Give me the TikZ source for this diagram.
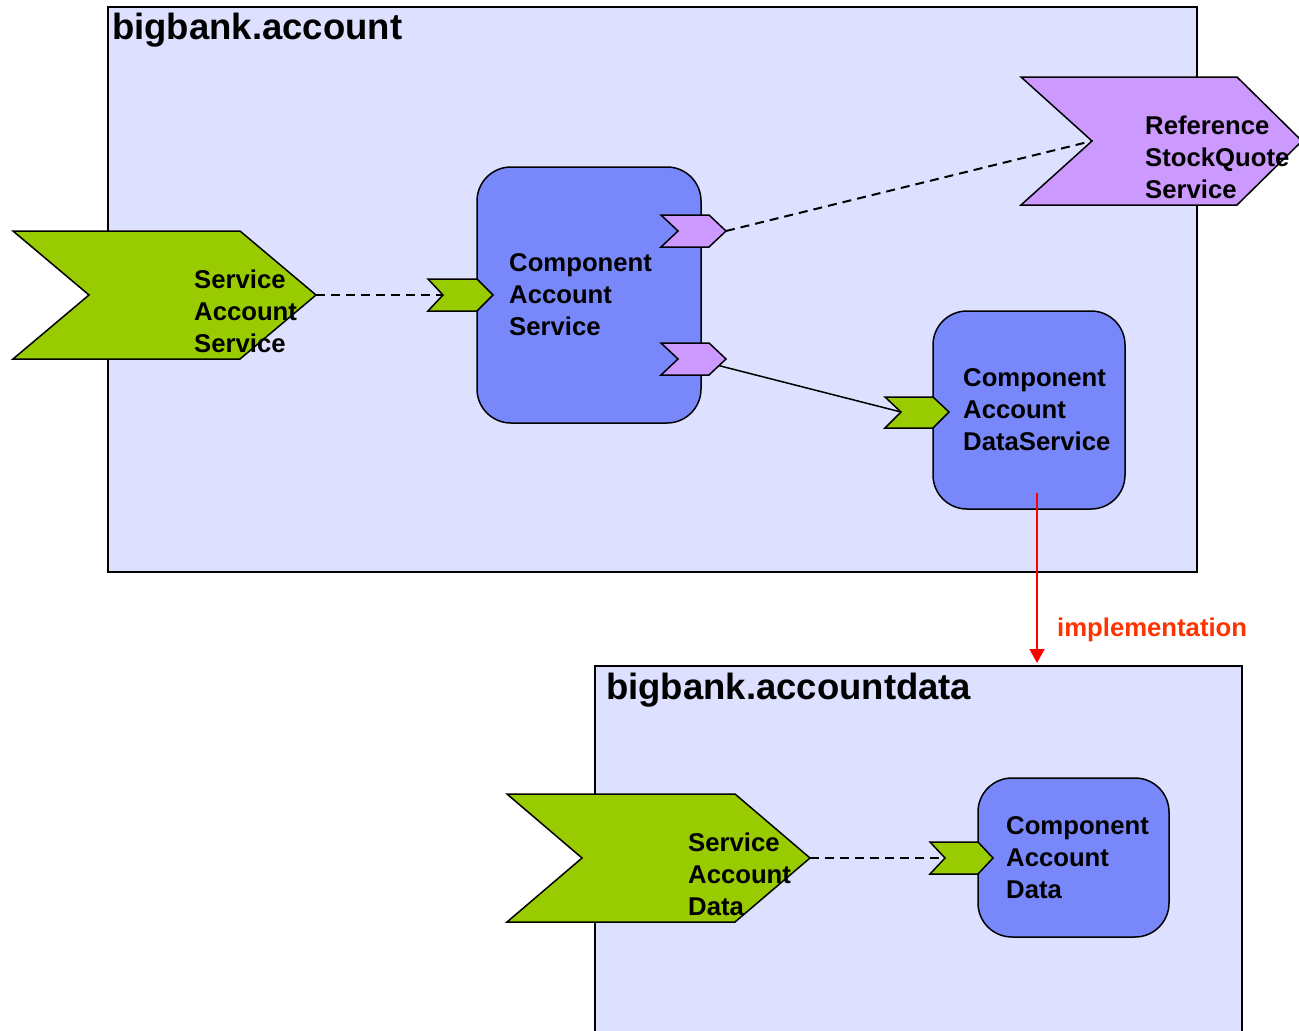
\documentclass[tikz,border=0pt]{standalone}
\usepackage{fontspec}
\setmainfont{Liberation Sans}
\usetikzlibrary{arrows.meta}
\definecolor{pkgfill}{RGB}{221,224,254}
\definecolor{compfill}{RGB}{120,136,251}
\definecolor{svcgreen}{RGB}{153,204,0}
\definecolor{refpurple}{RGB}{204,153,255}
\definecolor{impred}{RGB}{255,51,0}
\tikzset{
  pkg/.style={draw=black, fill=pkgfill, line width=2pt, inner sep=0pt, outer sep=0pt, anchor=north west},
  comp/.style={draw=black, fill=compfill, line width=1.5pt, rounded corners=34pt, inner sep=0pt, outer sep=0pt, anchor=north west},
  chev/.style={draw=black, line width=1.5pt, line join=miter},
  svc/.style={chev, fill=svcgreen},
  refc/.style={chev, fill=refpurple},
  lbl/.style={font=\fontsize{25.7}{32}\selectfont\bfseries, align=left, inner sep=0pt, anchor=west},
  ttl/.style={font=\fontsize{36.5}{40}\selectfont\bfseries, inner sep=0pt, anchor=base west},
  wire/.style={line width=1.5pt},
  wiredash/.style={line width=2.5pt, dash pattern=on 9pt off 6pt},
  wiredashthin/.style={line width=2pt, dash pattern=on 9pt off 6pt},
  implarrow/.style={draw=red, line width=1.5pt, -{Triangle[width=15pt,length=14pt]}},
}
\begin{document}
\begin{tikzpicture}[x=1pt,y=-1pt]
\useasboundingbox[fill=white] (0,0) rectangle (1299,1031);

% packages
\node[pkg, minimum width=1089pt, minimum height=565pt] (acct) at (108,7) {};
\node[ttl] (acctT) at (112,39.5) {bigbank.account};
\node[pkg, minimum width=647pt, minimum height=400pt] (adata) at (595,666) {};
\node[ttl] (adataT) at (606,699) {bigbank.accountdata};

% connector end points
\coordinate (sasTip) at (316,295);
\coordinate (casIn) at (443,295);
\coordinate (refOutA) at (726,231);
\coordinate (refNotch) at (1092,141);
\coordinate (refOutB) at (693,359);
\coordinate (dsIn) at (901,412);
\coordinate (sadTip) at (810,858);
\coordinate (cadIn) at (945,858);
\coordinate (implStart) at (1037,493);
\coordinate (implEnd) at (1037,663);

% connectors
\draw[wiredash] (sasTip) -- (casIn);
\draw[wiredashthin] (refOutA) -- (refNotch);
\draw[wire] (refOutB) -- (dsIn);
\draw[wiredashthin] (sadTip) -- (cadIn);

% components
\node[comp, minimum width=224pt, minimum height=256pt] (cas) at (477,167) {};
\node[lbl] (casT) at (509,295) {Component\\Account\\Service};
\node[comp, minimum width=192pt, minimum height=198pt] (cads) at (933,311) {};
\node[lbl] (cadsT) at (963,410) {Component\\Account\\DataService};
\node[comp, minimum width=191pt, minimum height=159pt] (cad) at (978,778) {};
\node[lbl] (cadT) at (1006,858) {Component\\Account\\Data};

% services and references
\draw[svc] (13,231) -- (240,231) -- (316,295) -- (240,359) -- (13,359) -- (89,295) -- cycle;
\node[lbl] (sasT) at (194,311) {Service\\Account\\Service};
\draw[svc] (428,279) -- (477,279) -- (493,295) -- (477,311) -- (428,311) -- (443,295) -- cycle;
\draw[refc] (661,215) -- (709,215) -- (726,231) -- (709,247) -- (661,247) -- (678,231) -- cycle;
\draw[refc] (661,343) -- (709,343) -- (726,359) -- (709,375) -- (661,375) -- (678,359) -- cycle;
\draw[refc] (1021,77) -- (1237,77) -- (1302,141) -- (1237,205) -- (1021,205) -- (1092,141) -- cycle;
\node[lbl] (refT) at (1145,157) {Reference\\StockQuote\\Service};
\draw[svc] (885,397) -- (933,397) -- (949,412) -- (933,428) -- (885,428) -- (901,412) -- cycle;
\draw[svc] (507,794) -- (735,794) -- (810,858) -- (735,922) -- (507,922) -- (582,858) -- cycle;
\node[lbl] (sadT) at (688,874) {Service\\Account\\Data};
\draw[svc] (930,842) -- (978,842) -- (993,858) -- (978,874) -- (930,874) -- (945,858) -- cycle;

% implementation
\draw[implarrow] (implStart) -- (implEnd);
\node[font=\fontsize{25.7}{32}\selectfont\bfseries, text=impred, inner sep=0pt, anchor=base west] (implT) at (1057,636) {implementation};
\end{tikzpicture}
\end{document}
